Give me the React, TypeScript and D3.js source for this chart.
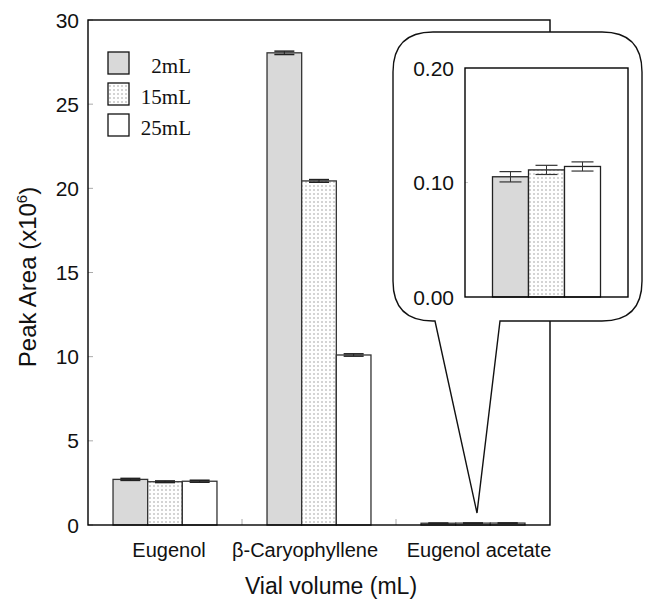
import React from "react";
import * as d3 from "d3";

const categories = ["Eugenol", "β-Caryophyllene", "Eugenol acetate"];
const series = ["2mL", "15mL", "25mL"];
const values2 = [2.71, 28.05, 0.105];
const values15 = [2.57, 20.44, 0.111];
const values25 = [2.6, 10.1, 0.114];
const err2 = [0.06, 0.1, 0.0045];
const err15 = [0.05, 0.08, 0.004];
const err25 = [0.06, 0.07, 0.004];
const yTicks = [0, 5, 10, 15, 20, 25, 30];
const insetTicks = [0, 0.1, 0.2];
const insetTickLabels = ["0.00", "0.10", "0.20"];
const labelShift = [4, -14, 6];

const seriesValues = [values2, values15, values25];
const seriesErr = [err2, err15, err25];
const fills = ["#d9d9d9", "url(#dots)", "#ffffff"];

const W = 647;
const H = 599;
const L = 88, R = 550, T = 20, B = 525;
const IL = 465, IR = 628, IT = 68, IB = 297;

export default function App() {
  const x = d3.scaleBand<string>().domain(categories).range([L, R]).paddingInner(0.325).paddingOuter(0.1625);
  const xs = d3.scaleBand<string>().domain(series).range([0, x.bandwidth()]);
  const y = d3.scaleLinear().domain([0, 30]).range([B, T]);

  const ix = d3.scaleBand<string>().domain([categories[2]]).range([IL, IR]).paddingOuter(0.2546);
  const ixs = d3.scaleBand<string>().domain(series).range([0, ix.bandwidth()]);
  const iy = d3.scaleLinear().domain([0, 0.2]).range([IB, IT]);

  const sans = "'Liberation Sans', Arial, sans-serif";
  const serif = "'Liberation Serif', 'Times New Roman', serif";

  const bx0 = 393, bx1 = 642, by0 = 32, by1 = 321, r = 40;
  const p0 = 435, p1 = 500;
  const tip = [477, 513];
  const balloon = `M${bx0 + r},${by0} L${bx1 - r},${by0} Q${bx1},${by0} ${bx1},${by0 + r} L${bx1},${by1 - r} Q${bx1},${by1} ${bx1 - r},${by1} L${p1},${by1} L${tip[0]},${tip[1]} L${p0},${by1} L${bx0 + r},${by1} Q${bx0},${by1} ${bx0},${by1 - r} L${bx0},${by0 + r} Q${bx0},${by0} ${bx0 + r},${by0} Z`;

  const capW = 10;

  return (
    <svg width={W} height={H} style={{ position: "absolute", left: 0, top: 0, background: "#fff" }}>
      <defs>
        <pattern id="dots" width={4} height={4} patternUnits="userSpaceOnUse">
          <rect width={4} height={4} fill="#fff" />
          <rect x={1.5} y={1.5} width={1} height={1} fill="#555" />
        </pattern>
      </defs>
      <rect width={W} height={H} fill="#fff" />

      {yTicks.map((t) => (
        <g key={t}>
          <line x1={L} x2={L + 5} y1={y(t)} y2={y(t)} stroke="#aaa" />
          <text x={79} y={y(t)} dy="0.36em" textAnchor="end" fontFamily={sans} fontSize={21} fill="#111">{t}</text>
        </g>
      ))}
      {categories.slice(1).map((c) => (
        <line key={c} x1={x(c)! - (x.step() - x.bandwidth()) / 2} x2={x(c)! - (x.step() - x.bandwidth()) / 2} y1={B} y2={B - 6} stroke="#aaa" />
      ))}

      {categories.map((c, ci) => (
        <g key={c}>
          {series.map((s, si) => {
            const v = seriesValues[si][ci];
            const e = seriesErr[si][ci];
            const bx = x(c)! + xs(s)!;
            const cx = bx + xs.bandwidth() / 2;
            return (
              <g key={s}>
                <rect x={bx} y={y(v)} width={xs.bandwidth()} height={B - y(v)} fill={fills[si]} stroke="#333" strokeWidth={1.3} />
                <line x1={cx} x2={cx} y1={y(v + e)} y2={y(v - e)} stroke="#222" strokeWidth={1} />
                <line x1={cx - capW} x2={cx + capW} y1={y(v + e)} y2={y(v + e)} stroke="#222" strokeWidth={1.5} />
                <line x1={cx - capW} x2={cx + capW} y1={y(v - e)} y2={y(v - e)} stroke="#222" strokeWidth={1.5} />
              </g>
            );
          })}
        </g>
      ))}

      <rect x={L} y={T} width={R - L} height={B - T} fill="none" stroke="#000" strokeWidth={1.4} />

      {categories.map((c, ci) => (
        <text key={c} x={x(c)! + x.bandwidth() / 2 + labelShift[ci]} y={557} textAnchor="middle" fontFamily={sans} fontSize={20} fill="#111">{c}</text>
      ))}

      <text x={331} y={594} textAnchor="middle" fontFamily={sans} fontSize={23} fill="#111">Vial volume (mL)</text>
      <text transform="translate(36,277) rotate(-90)" textAnchor="middle" fontFamily={sans} fontSize={24} fill="#111">
        Peak Area (x10<tspan fontSize={15} dy={-9}>6</tspan><tspan dy={9}>)</tspan>
      </text>

      {series.map((s, si) => (
        <g key={s}>
          <rect x={108} y={52 + si * 31} width={21} height={22} fill={fills[si]} stroke="#111" strokeWidth={1.3} />
          <text x={191} y={73 + si * 31} textAnchor="end" fontFamily={serif} fontSize={21} fill="#111">{s}</text>
        </g>
      ))}

      <path d={balloon} fill="#fff" stroke="#111" strokeWidth={1.4} />

      {insetTicks.map((t, i) => (
        <g key={t}>
          {i === 1 && <line x1={IL} x2={IL + 3} y1={iy(t)} y2={iy(t)} stroke="#ccc" />}
          <text x={454} y={iy(t)} dy="0.36em" textAnchor="end" fontFamily={sans} fontSize={21} fill="#111">{insetTickLabels[i]}</text>
        </g>
      ))}
      {series.map((s, si) => {
        const c = categories[2];
        const v = seriesValues[si][2];
        const e = seriesErr[si][2];
        const bx = ix(c)! + ixs(s)!;
        const cx = bx + ixs.bandwidth() / 2;
        return (
          <g key={s}>
            <rect x={bx} y={iy(v)} width={ixs.bandwidth()} height={IB - iy(v)} fill={fills[si]} stroke="#222" strokeWidth={1.3} />
            <line x1={cx} x2={cx} y1={iy(v + e)} y2={iy(v - e)} stroke="#333" strokeWidth={1} />
            <line x1={cx - 11} x2={cx + 11} y1={iy(v + e)} y2={iy(v + e)} stroke="#333" strokeWidth={1.2} />
            <line x1={cx - 11} x2={cx + 11} y1={iy(v - e)} y2={iy(v - e)} stroke="#333" strokeWidth={1.2} />
          </g>
        );
      })}
      <rect x={IL} y={IT} width={IR - IL} height={IB - IT} fill="none" stroke="#000" strokeWidth={1.4} />
    </svg>
  );
}
